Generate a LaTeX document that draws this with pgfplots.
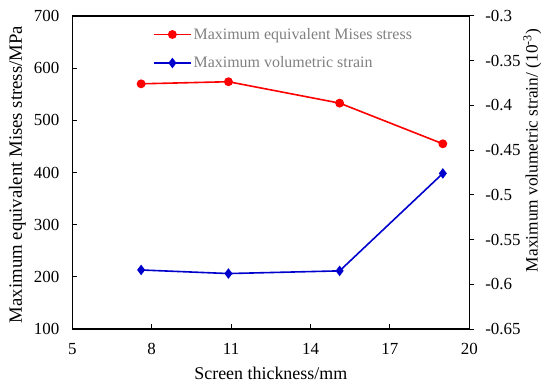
\documentclass[border=0pt]{standalone}
\usepackage{fontspec}
\setmainfont{Liberation Serif}
\usepackage{pgfplots}
\pgfplotsset{compat=1.18}
\definecolor{myred}{RGB}{255,0,0}
\definecolor{myblue}{RGB}{0,0,205}
\definecolor{leggray}{RGB}{128,128,128}
\begin{document}
\begin{tikzpicture}
\path[use as bounding box] (-72.3bp,-56bp) rectangle (477.7bp,329bp);
\pgfplotsset{
  base/.style={
    scale only axis, width=397bp, height=313bp,
    at={(0,0)}, anchor=south west,
    xmin=5, xmax=20,
    /pgf/number format/assume math mode=true,
    tick label style={font=\fontsize{17}{20}\selectfont},
    axis line style={line width=1.1bp},
    major tick length=5bp,
    every tick/.style={black, line width=1bp},
  },
  legend image code/.code={
    \draw[mark repeat=2,mark phase=2,#1] plot coordinates {(0bp,0bp) (18.5bp,0bp) (37bp,0bp)};
  },
}
\begin{axis}[base,
  ymin=100, ymax=700,
  ytick={100,200,300,400,500,600,700},
  xtick={5,8,11,14,17,20},
  xtick pos=bottom, ytick pos=left, tick align=inside,
  yticklabel style={xshift=-9.5bp},
  xticklabel style={yshift=-11bp},
  ylabel={Maximum equivalent Mises stress/MPa},
  xlabel={Screen thickness/mm},
  every axis y label/.style={at={(axis description cs:0,0.5)}, xshift=-55bp, yshift=-2bp, anchor=center, rotate=90, font=\fontsize{18.8}{22}\selectfont},
  every axis x label/.style={at={(axis description cs:0.5,0)}, yshift=-44bp, anchor=center, font=\fontsize{18}{21}\selectfont},
]
\addplot[myred, line width=1.6bp, mark=*, mark size=3.6bp] coordinates {
  (7.6,570) (10.9,574) (15.1,533) (19.0,455)
};
\end{axis}
\begin{axis}[base,
  axis x line=none, axis y line*=right,
  ymin=-0.65, ymax=-0.3,
  ytick={-0.65,-0.6,-0.55,-0.5,-0.45,-0.4,-0.35,-0.3},
  yticklabel style={/pgf/number format/fixed, /pgf/number format/precision=2, xshift=7.5bp},
  tick align=outside,
  ylabel={Maximum volumetric strain/ (10\textsuperscript{-3})},
  every axis y label/.style={at={(axis description cs:1,0.5)}, xshift=63bp, yshift=22bp, anchor=center, rotate=90, font=\fontsize{17.4}{20}\selectfont},
  legend style={draw=none, fill=none, at={(0.203,0.968)}, anchor=north west, inner sep=0pt,
    font=\fontsize{16}{19}\selectfont, text=leggray, row sep=12bp},
  legend cell align=left,
]
\addlegendimage{myred, line width=1.6bp, mark=*, mark size=3.6bp}
\addlegendentry{Maximum equivalent Mises stress}
\addplot[myblue, line width=1.6bp, mark=diamond*, mark size=4bp] coordinates {
  (7.6,-0.584) (10.9,-0.588) (15.1,-0.585) (19.0,-0.476)
};
\addlegendentry{Maximum volumetric strain}
\end{axis}
\end{tikzpicture}
\end{document}
